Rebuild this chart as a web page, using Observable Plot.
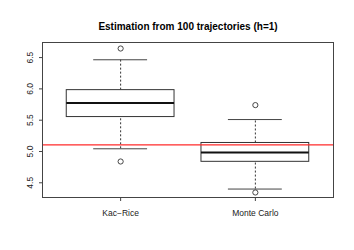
<!DOCTYPE html>
<html>
<head>
<meta charset="utf-8">
<script src="https://cdn.jsdelivr.net/npm/d3@7"></script>
<script src="https://cdn.jsdelivr.net/npm/@observablehq/plot@0.6"></script>
<style>
html,body{margin:0;padding:0;background:#fff;}
#chart svg{display:block;}
</style>
</head>
<body>
<div id="chart"></div>
<script>
const categories = ["Kac\u2212Rice", "Monte Carlo"];
const lowerWhisker = [5.043, 4.40];
const q1 = [5.55, 4.835];
const median = [5.773, 4.984];
const q3 = [5.98, 5.136];
const upperWhisker = [6.465, 5.51];
const outlierCategory = [0, 0, 1, 1];
const outlierValue = [6.645, 4.84, 5.741, 4.345];
const yTicks = [4.5, 5.0, 5.5, 6.0, 6.5];
const referenceValue = 5.107;
const title = "Estimation from 100 trajectories (h=1)";

const boxes = categories.map((c, i) => ({
  i: i + 1, name: c,
  lo: lowerWhisker[i], q1: q1[i], med: median[i], q3: q3[i], hi: upperWhisker[i]
}));
const outliers = outlierValue.map((v, k) => ({i: outlierCategory[k] + 1, v}));

const font = "Liberation Sans, Arial, Helvetica, sans-serif";

const chart = Plot.plot({
  width: 354,
  height: 250,
  marginLeft: 42,
  marginRight: 21,
  marginTop: 42,
  marginBottom: 53,
  style: {fontFamily: font, fontSize: "8.5px", background: "#fff", color: "#222"},
  x: {domain: [0.42, 2.58], ticks: [1, 2], tickFormat: d => categories[d - 1], tickSize: 4, tickPadding: 6, label: null},
  y: {domain: [4.265, 6.741], ticks: yTicks, tickFormat: d3.format(".1f"), label: null},
  marks: [
    // whiskers (dashed)
    Plot.ruleX(boxes, {x: "i", y1: "q3", y2: "hi", stroke: "#333", strokeDasharray: "2,2"}),
    Plot.ruleX(boxes, {x: "i", y1: "lo", y2: "q1", stroke: "#333", strokeDasharray: "2,2"}),
    // whisker caps
    Plot.ruleY(boxes, {y: "hi", x1: d => d.i - 0.2, x2: d => d.i + 0.2, stroke: "#444"}),
    Plot.ruleY(boxes, {y: "lo", x1: d => d.i - 0.2, x2: d => d.i + 0.2, stroke: "#444"}),
    // boxes
    Plot.rect(boxes, {x1: d => d.i - 0.4, x2: d => d.i + 0.4, y1: "q1", y2: "q3", fill: "white", stroke: "#333"}),
    // medians
    Plot.ruleY(boxes, {y: "med", x1: d => d.i - 0.4, x2: d => d.i + 0.4, stroke: "#111", strokeWidth: 2}),
    // outliers
    Plot.dot(outliers, {x: "i", y: "v", r: 2.6, stroke: "#333", fill: "none", strokeWidth: 0.9}),
    // reference line
    Plot.ruleY([referenceValue], {stroke: "#ff2a2a", strokeWidth: 1.2}),
    // frame
    Plot.frame({stroke: "#444"}),
    // axes
    Plot.axisX({ticks: [1, 2], tickFormat: d => categories[d - 1], tickSize: 4, tickPadding: 8, stroke: "#444", fill: "#222", fontSize: 8.5}),
    Plot.axisY({ticks: yTicks, tickFormat: d3.format(".1f"), tickSize: 3, tickPadding: 7, tickRotate: -90, stroke: "#444", fill: "#222", fontSize: 8.5}),
    // title
    Plot.text([title], {frameAnchor: "top", dy: -20, text: d => d, fontWeight: "bold", fontSize: 10, fill: "#000"})
  ]
});
document.getElementById("chart").appendChild(chart);
</script>
</body>
</html>
